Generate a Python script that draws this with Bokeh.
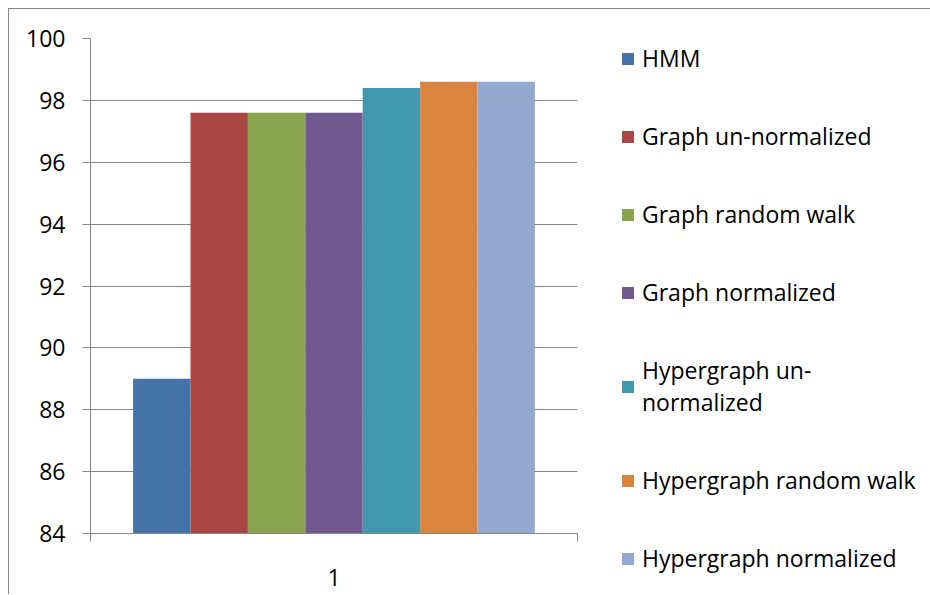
from bokeh.plotting import figure
from bokeh.models import (Range1d, FixedTicker, Legend, LegendItem)
from bokeh.embed import file_html
from bokeh.resources import INLINE

# ---- data ----
categories = ["1"]
series_names = ["HMM", "Graph un-normalized", "Graph random walk", "Graph normalized",
                "Hypergraph un-normalized", "Hypergraph random walk", "Hypergraph normalized"]
legend_labels = ["HMM", "Graph un-normalized", "Graph random walk", "Graph normalized",
                 "Hypergraph un-\nnormalized", "Hypergraph random walk", "Hypergraph normalized"]
values = [89.0, 97.6, 97.6, 97.6, 98.4, 98.6, 98.6]
y_ticks = [84, 86, 88, 90, 92, 94, 96, 98, 100]
colors = ["#4572A7", "#AA4643", "#89A54E", "#71588F", "#4198AF", "#DB843D", "#93A9CF"]

FONT = "Open Sans"
FSIZE = "23px"
GRAY = "#868686"

y_min, y_max = y_ticks[0], y_ticks[-1]

p = figure(frame_width=487, frame_height=495, output_backend="svg", toolbar_location=None,
           x_range=Range1d(0.5, 0.5 + len(categories)), y_range=Range1d(y_min, y_max),
           min_border_left=81, min_border_right=0, min_border_top=29, min_border_bottom=61)
p.styles = {"margin-left": "8px", "margin-top": "8px",
            "border-top": "1px solid #868686", "border-left": "1px solid #868686"}
p.outline_line_color = None
p.background_fill_color = "white"
p.border_fill_color = "white"

n = len(series_names)
group_frac = 0.825
bar_w = group_frac / n
renderers = []
for i, (name, val, col) in enumerate(zip(series_names, values, colors)):
    xs = [c_i + 1 + (i - (n - 1) / 2) * bar_w for c_i in range(len(categories))]
    r = p.vbar(x=xs, top=[val], bottom=y_min, width=bar_w, fill_color=col, line_color=None)
    renderers.append(r)

# y axis
p.yaxis.ticker = FixedTicker(ticks=y_ticks)
p.yaxis.axis_line_color = GRAY
p.yaxis.major_tick_line_color = GRAY
p.yaxis.major_tick_out = 8
p.yaxis.major_tick_in = 0
p.yaxis.minor_tick_line_color = None
p.yaxis.major_label_standoff = 17
p.yaxis.major_label_text_font = FONT
p.yaxis.major_label_text_font_size = FSIZE
p.yaxis.major_label_text_color = "#000000"

# x axis: one category, boundary ticks
cat_pos = [i + 1 for i in range(len(categories))]
bounds = [i + 0.5 for i in range(len(categories) + 1)]
p.xaxis.ticker = FixedTicker(ticks=cat_pos, minor_ticks=bounds)
p.xaxis.major_label_overrides = {c: lab for c, lab in zip(cat_pos, categories)}
p.xaxis.axis_line_color = GRAY
p.xaxis.major_tick_line_color = None
p.xaxis.major_tick_out = 0
p.xaxis.major_tick_in = 0
p.xaxis.minor_tick_line_color = GRAY
p.xaxis.minor_tick_out = 8
p.xaxis.minor_tick_in = 0
p.xaxis.major_label_standoff = 27
p.xaxis.major_label_text_font = FONT
p.xaxis.major_label_text_font_size = FSIZE
p.xaxis.major_label_text_color = "#000000"

p.xgrid.grid_line_color = None
p.ygrid.ticker = FixedTicker(ticks=y_ticks)
p.ygrid.grid_line_color = GRAY
p.ygrid.grid_line_width = 1

legend = Legend(items=[LegendItem(label=lab, renderers=[r]) for lab, r in zip(legend_labels, renderers)],
                location=(43, -41), padding=0, margin=0, spacing=46,
                glyph_width=15, glyph_height=15, label_standoff=7, label_height=30,
                label_text_font=FONT, label_text_font_size=FSIZE,
                label_text_color="#000000",
                border_line_color=None, background_fill_alpha=0)
p.add_layout(legend, "right")

open("out.html", "w").write(file_html(p, INLINE))
